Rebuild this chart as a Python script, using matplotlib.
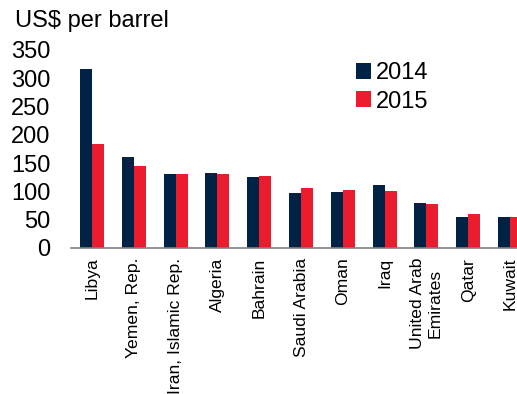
import matplotlib.pyplot as plt
import numpy as np

plt.rcParams['font.family'] = ['Liberation Sans', 'DejaVu Sans']

countries = ['Libya', 'Yemen, Rep.', 'Iran, Islamic Rep.', 'Algeria', 'Bahrain',
             'Saudi Arabia', 'Oman', 'Iraq', 'United Arab\nEmirates', 'Qatar', 'Kuwait']
v2014 = [317, 160, 131, 133, 125, 97, 99, 111, 80, 55, 54]
v2015 = [184, 145, 131, 131, 127, 106, 102, 101, 78, 60, 54]

navy = '#002245'
red = '#EC1C2F'

fig = plt.figure(figsize=(5.17, 3.94), dpi=100)
# axes runs a bit past the right edge, the Kuwait bar is cut in the original
ax = fig.add_axes([71 / 517, 146 / 394, 460 / 517, 198 / 394])

x = np.arange(len(countries))
w = 0.287
ax.bar(x - w / 2, v2014, w, color=navy, label='2014')
ax.bar(x + w / 2, v2015, w, color=red, label='2015')

ax.set_xlim(-0.5, 10.5)
ax.set_ylim(0, 350)
ax.set_yticks(range(0, 351, 50))
ax.set_xticks(x)
ax.set_xticklabels(countries, rotation=90, ha='center', va='top',
                   multialignment='center', fontsize=12.6)
ax.tick_params(axis='y', length=0, pad=15, labelsize=17)
ax.tick_params(axis='x', length=0, pad=7)

for s in ['top', 'right', 'left']:
    ax.spines[s].set_visible(False)
ax.spines['bottom'].set_color('#808080')
ax.spines['bottom'].set_linewidth(1.2)

fig.text(15 / 517, 1 - 21 / 394, 'US$ per barrel', fontsize=17, va='center', ha='left')

ax.legend(loc='upper left', bbox_to_anchor=(356 / 517, 1 - 62 / 394),
          bbox_transform=fig.transFigure, frameon=False, fontsize=17,
          handlelength=0.65, handleheight=0.65, handletextpad=0.2,
          labelspacing=0.28, borderpad=0, borderaxespad=0)

fig.savefig('out.png', dpi=100)
